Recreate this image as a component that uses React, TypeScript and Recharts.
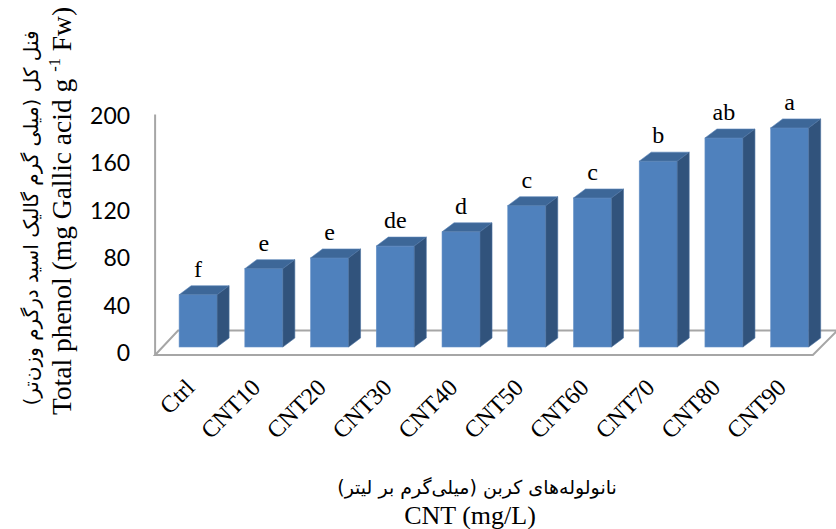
import React from 'react';
import { BarChart, Bar, XAxis, YAxis, LabelList, Customized } from 'recharts';

const categories = ['Ctrl', 'CNT10', 'CNT20', 'CNT30', 'CNT40', 'CNT50', 'CNT60', 'CNT70', 'CNT80', 'CNT90'];
const phenolValues = [44, 66, 75, 85, 97, 119, 125.5, 156.5, 176, 184.5];
const groupLetters = ['f', 'e', 'e', 'de', 'd', 'c', 'c', 'b', 'ab', 'a'];
const yTicks = [0, 40, 80, 120, 160, 200];

const data = categories.map((name, i) => ({ name, value: phenolValues[i], letter: groupLetters[i] }));

const W = 836;
const H = 529;
const PLOT_TOP = 109.5;
const PLOT_BOTTOM = 347;
const PLOT_LEFT = 165.1;
const PLOT_RIGHT = 822.4;
const DEPTH_X = 12;
const DEPTH_Y = 9;

const FRONT = '#4F81BD';
const TOP = '#3D6798';
const SIDE = '#31537C';
const SERIF = "'Liberation Serif', 'Times New Roman', serif";

const Bar3D = (props: any) => {
  const { x, y, width, height } = props;
  if (width == null || height == null) return null;
  const x2 = x + width;
  const yb = y + height;
  return (
    <g>
      <rect x={x} y={y} width={width} height={height} fill={FRONT} stroke="#6A94C8" strokeWidth={0.6} />
      <polygon
        points={`${x},${y} ${x + DEPTH_X},${y - DEPTH_Y} ${x2 + DEPTH_X},${y - DEPTH_Y} ${x2},${y}`}
        fill={TOP}
        stroke="#5A84B8"
        strokeWidth={0.6}
      />
      <polygon
        points={`${x2},${y} ${x2 + DEPTH_X},${y - DEPTH_Y} ${x2 + DEPTH_X},${yb - DEPTH_Y} ${x2},${yb}`}
        fill={SIDE}
        stroke="#4A70A0"
        strokeWidth={0.6}
      />
    </g>
  );
};

const YTick = (props: any) => {
  const { x, y, payload } = props;
  return (
    <text x={x} y={y + 14} textAnchor="end" style={{ fontFamily: "Lato, 'Open Sans', sans-serif", fontSize: 23 }} fill="#000">
      {payload.value}
    </text>
  );
};

const XTick = (props: any) => {
  const { x, payload } = props;
  const ax = x - 2;
  const ay = PLOT_BOTTOM + 42;
  return (
    <g transform={`translate(${ax},${ay})`}>
      <text x={0} y={0} textAnchor="end" transform="rotate(-45)" style={{ fontFamily: SERIF, fontSize: 24 }} fill="#000">
        {payload.value}
      </text>
    </g>
  );
};

const LetterLabel = (props: any) => {
  const { x, y, width, value } = props;
  return (
    <text x={x + width / 2} y={y - 18} textAnchor="middle" style={{ fontFamily: SERIF, fontSize: 24 }} fill="#000">
      {value}
    </text>
  );
};

const Floor = () => {
  const frontY = PLOT_BOTTOM + 8;
  const backY = PLOT_BOTTOM - 16.5;
  const frontLeft = PLOT_LEFT - 10;
  const backLeft = PLOT_LEFT + 13;
  const frontRight = PLOT_RIGHT - 9.5;
  const backRight = PLOT_RIGHT + 14;
  return (
    <g>
      <polygon
        points={`${frontLeft},${frontY} ${backLeft},${backY} ${backRight + 10},${backY} ${backRight},${backY + 1} ${frontRight},${frontY}`}
        fill="#FFFFFF"
        stroke="#A6A6A6"
        strokeWidth={2}
      />
      <line x1={frontLeft} y1={PLOT_TOP + 5} x2={frontLeft} y2={frontY} stroke="#A6A6A6" strokeWidth={2} />
    </g>
  );
};

const TitlesOverlay = () => (
  <svg width={W} height={H} style={{ position: 'absolute', left: 0, top: 0, pointerEvents: 'none' }}>
    <g transform="translate(38,218) rotate(-90)">
      <text
        x={0}
        y={0}
        textAnchor="middle"
        style={{ fontFamily: "'DejaVu Sans', sans-serif", fontSize: 20, direction: 'rtl', unicodeBidi: 'embed' } as any}
        fill="#000"
      >
        فنل کل (میلی گرم گالیک اسید درگرم وزن‌تر)
      </text>
    </g>
    <g transform="translate(71,211) rotate(-90)">
      <text x={0} y={0} textAnchor="middle" style={{ fontFamily: SERIF, fontSize: 27.5 }} fill="#000">
        Total phenol (mg Gallic acid g{' '}
        <tspan dy={-11} style={{ fontSize: 16.5 }}>
          -1
        </tspan>
        <tspan dy={11}> Fw)</tspan>
      </text>
    </g>
    <text
      x={477}
      y={494}
      textAnchor="middle"
      style={{ fontFamily: "'DejaVu Sans', sans-serif", fontSize: 19, direction: 'rtl', unicodeBidi: 'embed' } as any}
      fill="#000"
    >
      نانولوله‌های کربن (میلی‌گرم بر لیتر)
    </text>
    <text x={470} y={524} textAnchor="middle" style={{ fontFamily: SERIF, fontSize: 26 }} fill="#000">
      CNT (mg/L)
    </text>
  </svg>
);

export default function App() {
  return (
    <div style={{ position: 'absolute', left: 0, top: 0, width: W, height: H, background: '#fff' }}>
      <BarChart
        width={W}
        height={H}
        data={data}
        margin={{ top: PLOT_TOP, right: W - PLOT_RIGHT, bottom: 0, left: 0 }}
      >
        <Customized component={Floor} />
        <XAxis
          dataKey="name"
          height={H - PLOT_BOTTOM}
          axisLine={false}
          tickLine={false}
          tickSize={0}
          tickMargin={0}
          interval={0}
          tick={<XTick />}
        />
        <YAxis
          domain={[0, 200]}
          ticks={yTicks}
          width={PLOT_LEFT}
          axisLine={false}
          tickLine={false}
          tickSize={0}
          tickMargin={35}
          tick={<YTick />}
        />
        <Bar dataKey="value" barSize={38} shape={Bar3D} isAnimationActive={false}>
          <LabelList dataKey="letter" content={LetterLabel} />
        </Bar>
      </BarChart>
      <TitlesOverlay />
    </div>
  );
}
